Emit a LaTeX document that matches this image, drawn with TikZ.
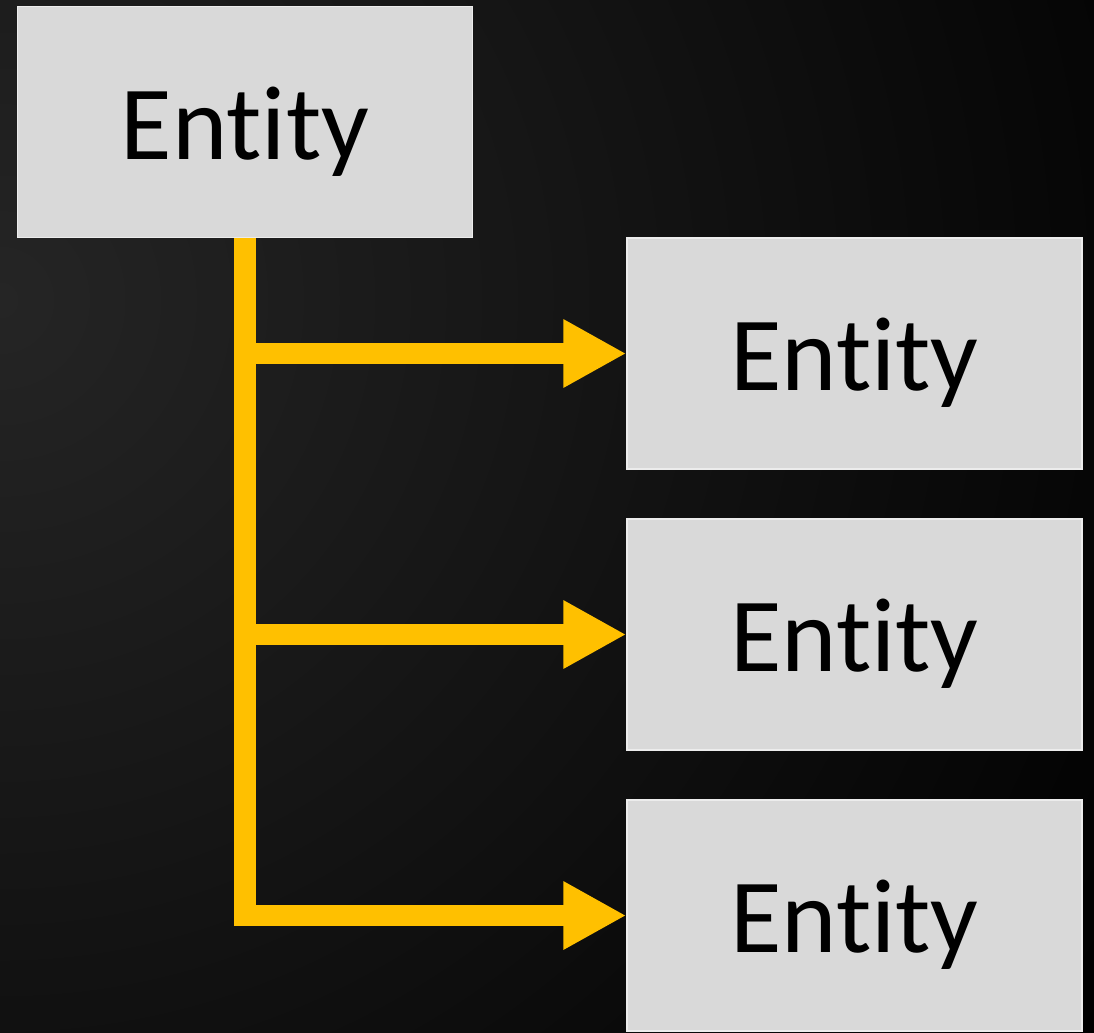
\documentclass[tikz,border=0pt]{standalone}
\usepackage{fontspec}
\setmainfont{Carlito}[Ligatures=NoCommon]
\usetikzlibrary{arrows.meta}

\definecolor{boxgrey}{HTML}{D9D9D9}
\definecolor{boxedge}{HTML}{ECECEC}
\definecolor{linkgold}{HTML}{FFC000}
\definecolor{bginner}{HTML}{252525}

\tikzset{
  entity/.style={draw=boxedge, line width=0.03cm, fill=boxgrey, rectangle,
    minimum width=9.1cm, minimum height=4.62cm, inner sep=0pt,
    text height=1.48cm, text depth=0pt,
    font=\fontsize{60}{72}\selectfont, text=black},
  link/.style={draw=linkgold, line width=0.43cm,
    -{Triangle[length=1.26cm, width=1.28cm]}}
}

\begin{document}
\begin{tikzpicture}[x=0.02cm, y=-0.02cm]
      \useasboundingbox (0,0) rectangle (1094,1032);

      % Background
      \begin{scope}
        \clip (0,0) rectangle (1094,1032);
        \fill[black] (0,0) rectangle (1094,1032);
        \shade[inner color=bginner, outer color=black] (0,300) circle (1320);
      \end{scope}

      % Parent entity
      \node[entity] (parent) at (245,122) {Entity};

      % Child entities
      \node[entity] (child1) at (854.5,353.5) {Entity};
      \node[entity] (child2) at (854.5,634.5) {Entity};
      \node[entity] (child3) at (854.5,915.5) {Entity};

      % Arrows
      \draw[link] (parent.south) |- (child3.west);
      \draw[link] (parent.south |- child1.west) -- (child1.west);
      \draw[link] (parent.south |- child2.west) -- (child2.west);

\end{tikzpicture}
\end{document}
